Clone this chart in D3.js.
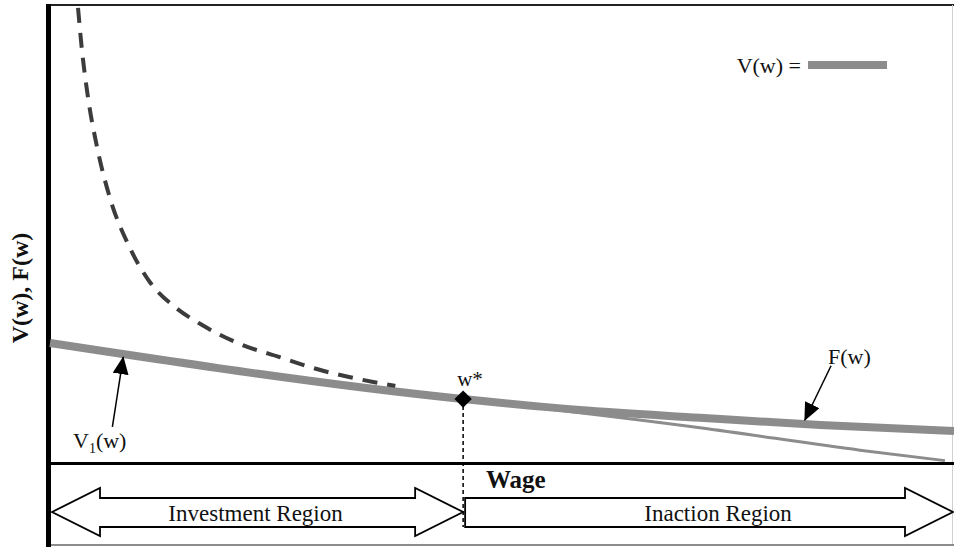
<!DOCTYPE html>
<html>
<head>
<meta charset="utf-8">
<script src="https://cdn.jsdelivr.net/npm/d3@7"></script>
<style>
body { margin: 0; background: #fff; }
svg { display: block; }
text { font-family: "Liberation Serif", "Times New Roman", serif; fill: #111; }
</style>
</head>
<body>
<script>
// data (wage 0..10, value 0..10)
var v1_pts     = [[0, 2.61], [4.57, 1.38]];                  // V1(w), straight part kept
var v1_ext_pts = [[4.57, 1.38], [7.19, 0.75], [8.96, 0.26], [9.90, 0.03]]; // V1 beyond w*
var f_pts      = [[4.57, 1.38], [5.86, 1.14], [7.19, 0.97], [8.52, 0.81], [10, 0.68]];
var hyper_pts  = [[0.31, 9.96], [0.35, 9.10], [0.42, 8.00], [0.52, 6.91], [0.66, 5.81],
                  [0.88, 4.71], [1.11, 3.93], [1.38, 3.40], [1.66, 3.03], [2.10, 2.59],
                  [2.54, 2.30], [3.02, 2.00], [3.32, 1.86], [3.59, 1.75], [3.82, 1.67]];
var wstar      = [4.57, 1.38];
var regions    = ["Investment Region", "Inaction Region"];
var labels     = { x: "Wage", y: "V(w), F(w)", legend: "V(w) =" };
// annotation arrows [tail, tip]
var v1_arrow   = [[0.69, 0.77], [0.81, 2.30]];
var f_arrow    = [[8.64, 2.11], [8.35, 0.92]];

var W = 954, H = 547;
var grey = "#8c8c8c";
var svg = d3.select("body").append("svg").attr("width", W).attr("height", H);

var x = d3.scaleLinear().domain([0, 10]).range([50, 954]);
var y = d3.scaleLinear().domain([0, 10]).range([462, 6]);

// defs //{{{
svg.append("defs").append("marker")
	.attr("id", "head")
	.attr("viewBox", "0 0 18 16")
	.attr("markerUnits", "userSpaceOnUse")
	.attr("markerWidth", 18).attr("markerHeight", 16)
	.attr("refX", 17).attr("refY", 8)
	.attr("orient", "auto")
	.append("path").attr("d", "M0,0 L18,8 L0,16 Z").attr("fill", "#000");
//}}}
// frame //{{{
function frame() {
	svg.append("line").attr("x1", 46).attr("x2", W).attr("y1", 5).attr("y2", 5)
		.attr("stroke", "#222").attr("stroke-width", 2);
	svg.append("line").attr("x1", 952.5).attr("x2", 952.5).attr("y1", 5).attr("y2", 545)
		.attr("stroke", "#d0d0d0").attr("stroke-width", 1);
	svg.append("line").attr("x1", 46).attr("x2", W).attr("y1", 545).attr("y2", 545)
		.attr("stroke", "#666").attr("stroke-width", 1.5);
	// axes
	svg.append("line").attr("x1", 48).attr("x2", W).attr("y1", y(0) + 1.5).attr("y2", y(0) + 1.5)
		.attr("stroke", "#000").attr("stroke-width", 3);
	svg.append("line").attr("x1", 48.5).attr("x2", 48.5).attr("y1", 4).attr("y2", H)
		.attr("stroke", "#000").attr("stroke-width", 5);

	svg.append("text").attr("x", 486).attr("y", 488)
		.attr("font-size", 25).attr("font-weight", "bold").text(labels.x);
	svg.append("text").attr("transform", "translate(28,288) rotate(-90)")
		.attr("text-anchor", "middle").attr("font-size", 24).attr("font-weight", "bold")
		.text(labels.y);
}
//}}}
// curves //{{{
function curves() {
	var line = d3.line().x(d => x(d[0])).y(d => y(d[1])).curve(d3.curveMonotoneX);

	svg.append("path").attr("d", line(v1_ext_pts)).attr("fill", "none")
		.attr("stroke", grey).attr("stroke-width", 3);

	svg.append("path").attr("d", line(v1_pts.concat(f_pts.slice(1)))).attr("fill", "none")
		.attr("stroke", grey).attr("stroke-width", 8);

	svg.append("path").attr("d", line(hyper_pts)).attr("fill", "none")
		.attr("stroke", "#3c3c3c").attr("stroke-width", 4)
		.attr("stroke-dasharray", "15,10");

	// w* marker and drop line
	svg.append("line").attr("x1", x(wstar[0])).attr("x2", x(wstar[0]))
		.attr("y1", y(wstar[1])).attr("y2", 527)
		.attr("stroke", "#000").attr("stroke-width", 1.5).attr("stroke-dasharray", "4,3");
	svg.append("path").attr("d", d3.symbol(d3.symbolSquare, 150)())
		.attr("transform", "translate(" + x(wstar[0]) + "," + y(wstar[1]) + ") rotate(45)")
		.attr("fill", "#000");
	svg.append("text").attr("x", x(wstar[0]) - 6).attr("y", y(wstar[1]) - 13)
		.attr("font-size", 21).text("w*");
}
//}}}
// notes //{{{
function notes() {
	[v1_arrow, f_arrow].forEach(function(a) {
		svg.append("line")
			.attr("x1", x(a[0][0])).attr("y1", y(a[0][1]))
			.attr("x2", x(a[1][0])).attr("y2", y(a[1][1]))
			.attr("stroke", "#000").attr("stroke-width", 1.5)
			.attr("marker-end", "url(#head)");
	});

	var t = svg.append("text").attr("x", 73).attr("y", 448).attr("font-size", 22);
	t.append("tspan").text("V");
	t.append("tspan").attr("font-size", 14).attr("dy", 5).text("1");
	t.append("tspan").attr("dy", -5).text("(w)");

	svg.append("text").attr("x", 828).attr("y", 364).attr("font-size", 22).text("F(w)");

	// legend
	svg.append("text").attr("x", 801).attr("y", 73).attr("text-anchor", "end")
		.attr("font-size", 22).text(labels.legend);
	svg.append("rect").attr("x", 808).attr("y", 61).attr("width", 79).attr("height", 8)
		.attr("fill", grey);
}
//}}}
// region arrows //{{{
function region_arrows() {
	var top = 498, bot = 527, mid = 512, hh = 24, hl = 48;
	var x0 = x(0) + 2, xs = x(wstar[0]), x1 = 953;

	var left = [[x0, mid], [x0 + hl, mid - hh], [x0 + hl, top], [xs - hl, top], [xs - hl, mid - hh],
		[xs, mid], [xs - hl, mid + hh], [xs - hl, bot], [x0 + hl, bot], [x0 + hl, mid + hh]];
	var right = [[xs + 2, top], [x1 - hl, top], [x1 - hl, mid - hh], [x1, mid],
		[x1 - hl, mid + hh], [x1 - hl, bot], [xs + 2, bot]];

	[left, right].forEach(function(p) {
		svg.append("polygon").attr("points", p.map(d => d.join(",")).join(" "))
			.attr("fill", "#fff").attr("stroke", "#000").attr("stroke-width", 1.8);
	});

	svg.append("text").attr("x", (x0 + xs) / 2 - 2).attr("y", 521).attr("text-anchor", "middle")
		.attr("font-size", 23).text(regions[0]);
	svg.append("text").attr("x", (xs + x1) / 2 + 10).attr("y", 521).attr("text-anchor", "middle")
		.attr("font-size", 23).text(regions[1]);
}
//}}}

frame();
region_arrows();
curves();
notes();
</script>
</body>
</html>
